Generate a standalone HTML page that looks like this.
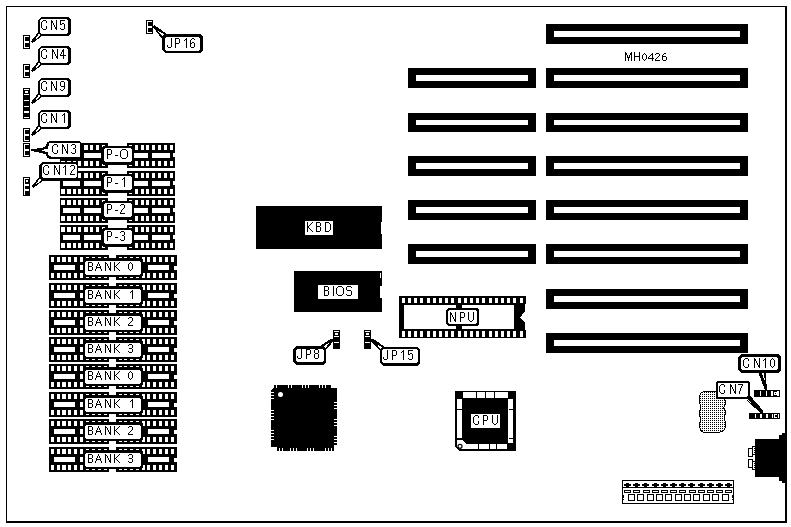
<!DOCTYPE html><html><head><meta charset="utf-8"><style>html,body{margin:0;padding:0;background:#fff;overflow:hidden}svg{display:block}</style></head><body><svg width="791" height="527" viewBox="0 0 791 527" shape-rendering="crispEdges"><defs><pattern id="dots" x="0" y="0" width="2" height="2" patternUnits="userSpaceOnUse"><rect width="2" height="2" fill="#fff"/><rect x="0" y="0" width="1" height="1" fill="#000"/></pattern><path id="g0" d="M0 0h4v1h-4zM0 1h1v1h-1zM4 1h1v1h-1zM0 2h1v1h-1zM4 2h1v1h-1zM0 3h1v1h-1zM4 3h1v1h-1zM0 4h1v1h-1zM4 4h1v1h-1zM0 5h4v1h-4zM0 6h1v1h-1zM0 7h1v1h-1zM0 8h1v1h-1zM0 9h1v1h-1z"/><path id="g1" d="M0 6h3v1h-3z"/><path id="g2" d="M2 0h4v1h-4zM1 1h1v1h-1zM6 1h1v1h-1zM0 2h1v1h-1zM7 2h1v1h-1zM0 3h1v1h-1zM7 3h1v1h-1zM0 4h1v1h-1zM7 4h1v1h-1zM0 5h1v1h-1zM7 5h1v1h-1zM0 6h1v1h-1zM7 6h1v1h-1zM0 7h1v1h-1zM7 7h1v1h-1zM1 8h1v1h-1zM6 8h1v1h-1zM2 9h4v1h-4z"/><path id="g3" d="M2 0h1v1h-1zM1 1h2v1h-2zM0 2h1v1h-1zM2 2h1v1h-1zM2 3h1v1h-1zM2 4h1v1h-1zM2 5h1v1h-1zM2 6h1v1h-1zM2 7h1v1h-1zM2 8h1v1h-1zM2 9h1v1h-1z"/><path id="g4" d="M1 0h3v1h-3zM0 1h1v1h-1zM4 1h1v1h-1zM4 2h1v1h-1zM4 3h1v1h-1zM3 4h1v1h-1zM2 5h1v1h-1zM1 6h1v1h-1zM1 7h1v1h-1zM0 8h1v1h-1zM0 9h5v1h-5z"/><path id="g5" d="M1 0h3v1h-3zM0 1h1v1h-1zM4 1h1v1h-1zM4 2h1v1h-1zM4 3h1v1h-1zM2 4h2v1h-2zM4 5h1v1h-1zM4 6h1v1h-1zM4 7h1v1h-1zM0 8h1v1h-1zM4 8h1v1h-1zM1 9h3v1h-3z"/><path id="g6" d="M0 0h4v1h-4zM0 1h1v1h-1zM4 1h1v1h-1zM0 2h1v1h-1zM4 2h1v1h-1zM0 3h1v1h-1zM4 3h1v1h-1zM0 4h4v1h-4zM0 5h1v1h-1zM4 5h1v1h-1zM0 6h1v1h-1zM4 6h1v1h-1zM0 7h1v1h-1zM4 7h1v1h-1zM0 8h4v1h-4z"/><path id="g7" d="M3 0h1v1h-1zM3 1h1v1h-1zM2 2h1v1h-1zM4 2h1v1h-1zM2 3h1v1h-1zM4 3h1v1h-1zM1 4h1v1h-1zM5 4h1v1h-1zM1 5h5v1h-5zM1 6h1v1h-1zM5 6h1v1h-1zM0 7h1v1h-1zM6 7h1v1h-1zM0 8h1v1h-1zM6 8h1v1h-1z"/><path id="g8" d="M0 0h1v1h-1zM5 0h1v1h-1zM0 1h2v1h-2zM5 1h1v1h-1zM0 2h1v1h-1zM2 2h1v1h-1zM5 2h1v1h-1zM0 3h1v1h-1zM2 3h1v1h-1zM5 3h1v1h-1zM0 4h1v1h-1zM3 4h1v1h-1zM5 4h1v1h-1zM0 5h1v1h-1zM3 5h1v1h-1zM5 5h1v1h-1zM0 6h1v1h-1zM4 6h2v1h-2zM0 7h1v1h-1zM4 7h2v1h-2zM0 8h1v1h-1zM5 8h1v1h-1z"/><path id="g9" d="M0 0h1v1h-1zM5 0h1v1h-1zM0 1h1v1h-1zM4 1h1v1h-1zM0 2h1v1h-1zM3 2h1v1h-1zM0 3h1v1h-1zM2 3h1v1h-1zM0 4h2v1h-2zM0 5h1v1h-1zM2 5h1v1h-1zM0 6h1v1h-1zM3 6h1v1h-1zM0 7h1v1h-1zM4 7h1v1h-1zM0 8h1v1h-1zM5 8h1v1h-1z"/><path id="g10" d="M2 0h1v1h-1zM1 1h1v1h-1zM3 1h1v1h-1zM0 2h1v1h-1zM4 2h1v1h-1zM0 3h1v1h-1zM4 3h1v1h-1zM0 4h1v1h-1zM4 4h1v1h-1zM0 5h1v1h-1zM4 5h1v1h-1zM0 6h1v1h-1zM4 6h1v1h-1zM1 7h1v1h-1zM3 7h1v1h-1zM2 8h1v1h-1z"/><path id="g11" d="M2 0h1v1h-1zM1 1h2v1h-2zM0 2h1v1h-1zM2 2h1v1h-1zM2 3h1v1h-1zM2 4h1v1h-1zM2 5h1v1h-1zM2 6h1v1h-1zM2 7h1v1h-1zM2 8h1v1h-1z"/><path id="g12" d="M1 0h3v1h-3zM0 1h1v1h-1zM4 1h1v1h-1zM4 2h1v1h-1zM4 3h1v1h-1zM3 4h1v1h-1zM2 5h1v1h-1zM1 6h1v1h-1zM0 7h1v1h-1zM0 8h5v1h-5z"/><path id="g13" d="M1 0h3v1h-3zM0 1h1v1h-1zM4 1h1v1h-1zM4 2h1v1h-1zM4 3h1v1h-1zM1 4h3v1h-3zM4 5h1v1h-1zM4 6h1v1h-1zM0 7h1v1h-1zM4 7h1v1h-1zM1 8h3v1h-3z"/><path id="g14" d="M2 0h3v1h-3zM1 1h1v1h-1zM5 1h1v1h-1zM0 2h1v1h-1zM5 2h1v1h-1zM0 3h1v1h-1zM0 4h1v1h-1zM0 5h1v1h-1zM0 6h1v1h-1zM5 6h1v1h-1zM0 7h1v1h-1zM5 7h1v1h-1zM1 8h1v1h-1zM5 8h1v1h-1zM2 9h3v1h-3z"/><path id="g15" d="M0 0h1v1h-1zM5 0h1v1h-1zM0 1h2v1h-2zM5 1h1v1h-1zM0 2h2v1h-2zM5 2h1v1h-1zM0 3h1v1h-1zM2 3h1v1h-1zM5 3h1v1h-1zM0 4h1v1h-1zM2 4h1v1h-1zM5 4h1v1h-1zM0 5h1v1h-1zM3 5h1v1h-1zM5 5h1v1h-1zM0 6h1v1h-1zM3 6h1v1h-1zM5 6h1v1h-1zM0 7h1v1h-1zM4 7h2v1h-2zM0 8h1v1h-1zM4 8h2v1h-2zM0 9h1v1h-1zM5 9h1v1h-1z"/><path id="g16" d="M0 0h5v1h-5zM0 1h1v1h-1zM0 2h1v1h-1zM0 3h1v1h-1zM2 3h2v1h-2zM0 4h2v1h-2zM4 4h1v1h-1zM4 5h1v1h-1zM4 6h1v1h-1zM4 7h1v1h-1zM0 8h1v1h-1zM4 8h1v1h-1zM1 9h3v1h-3z"/><path id="g17" d="M3 0h1v1h-1zM2 1h2v1h-2zM2 2h2v1h-2zM1 3h1v1h-1zM3 3h1v1h-1zM1 4h1v1h-1zM3 4h1v1h-1zM0 5h1v1h-1zM3 5h1v1h-1zM0 6h6v1h-6zM3 7h1v1h-1zM3 8h1v1h-1zM3 9h1v1h-1z"/><path id="g18" d="M1 0h3v1h-3zM0 1h1v1h-1zM4 1h1v1h-1zM0 2h1v1h-1zM4 2h1v1h-1zM0 3h1v1h-1zM4 3h1v1h-1zM0 4h1v1h-1zM4 4h1v1h-1zM1 5h4v1h-4zM4 6h1v1h-1zM4 7h1v1h-1zM0 8h1v1h-1zM3 8h1v1h-1zM1 9h2v1h-2z"/><path id="g19" d="M4 0h1v1h-1zM4 1h1v1h-1zM4 2h1v1h-1zM4 3h1v1h-1zM4 4h1v1h-1zM4 5h1v1h-1zM4 6h1v1h-1zM0 7h1v1h-1zM4 7h1v1h-1zM0 8h1v1h-1zM4 8h1v1h-1zM1 9h3v1h-3z"/><path id="g20" d="M2 0h2v1h-2zM1 1h1v1h-1zM4 1h1v1h-1zM0 2h1v1h-1zM0 3h1v1h-1zM0 4h1v1h-1zM2 4h2v1h-2zM0 5h2v1h-2zM4 5h1v1h-1zM0 6h1v1h-1zM4 6h1v1h-1zM0 7h1v1h-1zM4 7h1v1h-1zM0 8h1v1h-1zM4 8h1v1h-1zM1 9h3v1h-3z"/><path id="g21" d="M0 0h1v1h-1zM5 0h1v1h-1zM0 1h1v1h-1zM4 1h1v1h-1zM0 2h1v1h-1zM3 2h1v1h-1zM0 3h1v1h-1zM2 3h1v1h-1zM0 4h2v1h-2zM0 5h2v1h-2zM0 6h1v1h-1zM2 6h1v1h-1zM0 7h1v1h-1zM3 7h1v1h-1zM0 8h1v1h-1zM4 8h1v1h-1zM0 9h1v1h-1zM5 9h1v1h-1z"/><path id="g22" d="M0 0h4v1h-4zM0 1h1v1h-1zM4 1h1v1h-1zM0 2h1v1h-1zM4 2h1v1h-1zM0 3h1v1h-1zM4 3h1v1h-1zM0 4h4v1h-4zM0 5h1v1h-1zM4 5h1v1h-1zM0 6h1v1h-1zM4 6h1v1h-1zM0 7h1v1h-1zM4 7h1v1h-1zM0 8h1v1h-1zM4 8h1v1h-1zM0 9h4v1h-4z"/><path id="g23" d="M0 0h4v1h-4zM0 1h1v1h-1zM4 1h1v1h-1zM0 2h1v1h-1zM5 2h1v1h-1zM0 3h1v1h-1zM5 3h1v1h-1zM0 4h1v1h-1zM5 4h1v1h-1zM0 5h1v1h-1zM5 5h1v1h-1zM0 6h1v1h-1zM5 6h1v1h-1zM0 7h1v1h-1zM5 7h1v1h-1zM0 8h1v1h-1zM4 8h1v1h-1zM0 9h4v1h-4z"/><path id="g24" d="M0 0h1v1h-1zM0 1h1v1h-1zM0 2h1v1h-1zM0 3h1v1h-1zM0 4h1v1h-1zM0 5h1v1h-1zM0 6h1v1h-1zM0 7h1v1h-1zM0 8h1v1h-1zM0 9h1v1h-1z"/><path id="g25" d="M1 0h4v1h-4zM0 1h1v1h-1zM5 1h1v1h-1zM0 2h1v1h-1zM0 3h1v1h-1zM1 4h4v1h-4zM5 5h1v1h-1zM5 6h1v1h-1zM5 7h1v1h-1zM0 8h1v1h-1zM5 8h1v1h-1zM1 9h4v1h-4z"/><path id="g26" d="M0 0h1v1h-1zM5 0h1v1h-1zM0 1h1v1h-1zM5 1h1v1h-1zM0 2h1v1h-1zM5 2h1v1h-1zM0 3h1v1h-1zM5 3h1v1h-1zM0 4h1v1h-1zM5 4h1v1h-1zM0 5h1v1h-1zM5 5h1v1h-1zM0 6h1v1h-1zM5 6h1v1h-1zM0 7h1v1h-1zM5 7h1v1h-1zM1 8h1v1h-1zM4 8h1v1h-1zM2 9h2v1h-2z"/><path id="g27" d="M1 0h3v1h-3zM0 1h1v1h-1zM4 1h1v1h-1zM0 2h1v1h-1zM4 2h1v1h-1zM0 3h1v1h-1zM4 3h1v1h-1zM1 4h3v1h-3zM0 5h1v1h-1zM4 5h1v1h-1zM0 6h1v1h-1zM4 6h1v1h-1zM0 7h1v1h-1zM4 7h1v1h-1zM0 8h1v1h-1zM4 8h1v1h-1zM1 9h3v1h-3z"/><path id="g28" d="M2 0h1v1h-1zM1 1h1v1h-1zM3 1h1v1h-1zM0 2h1v1h-1zM4 2h1v1h-1zM0 3h1v1h-1zM4 3h1v1h-1zM0 4h1v1h-1zM4 4h1v1h-1zM0 5h1v1h-1zM4 5h1v1h-1zM0 6h1v1h-1zM4 6h1v1h-1zM0 7h1v1h-1zM4 7h1v1h-1zM1 8h1v1h-1zM3 8h1v1h-1zM2 9h1v1h-1z"/><path id="g29" d="M0 0h5v1h-5zM4 1h1v1h-1zM3 2h1v1h-1zM3 3h1v1h-1zM2 4h1v1h-1zM2 5h1v1h-1zM2 6h1v1h-1zM1 7h1v1h-1zM1 8h1v1h-1zM1 9h1v1h-1z"/><path id="g30" d="M0 0h1v1h-1zM6 0h1v1h-1zM0 1h2v1h-2zM5 1h2v1h-2zM0 2h2v1h-2zM5 2h2v1h-2zM0 3h1v1h-1zM2 3h1v1h-1zM4 3h1v1h-1zM6 3h1v1h-1zM0 4h1v1h-1zM2 4h1v1h-1zM4 4h1v1h-1zM6 4h1v1h-1zM0 5h1v1h-1zM2 5h3v1h-3zM6 5h1v1h-1zM0 6h1v1h-1zM3 6h1v1h-1zM6 6h1v1h-1zM0 7h1v1h-1zM3 7h1v1h-1zM6 7h1v1h-1zM0 8h1v1h-1zM3 8h1v1h-1zM6 8h1v1h-1z"/><path id="g31" d="M0 0h1v1h-1zM5 0h1v1h-1zM0 1h1v1h-1zM5 1h1v1h-1zM0 2h1v1h-1zM5 2h1v1h-1zM0 3h1v1h-1zM5 3h1v1h-1zM0 4h6v1h-6zM0 5h1v1h-1zM5 5h1v1h-1zM0 6h1v1h-1zM5 6h1v1h-1zM0 7h1v1h-1zM5 7h1v1h-1zM0 8h1v1h-1zM5 8h1v1h-1z"/><path id="g32" d="M2 1h1v1h-1zM1 2h1v1h-1zM3 2h1v1h-1zM0 3h1v1h-1zM4 3h1v1h-1zM0 4h1v1h-1zM4 4h1v1h-1zM0 5h1v1h-1zM4 5h1v1h-1zM0 6h1v1h-1zM4 6h1v1h-1zM1 7h1v1h-1zM3 7h1v1h-1zM2 8h1v1h-1z"/><path id="g33" d="M4 1h1v1h-1zM3 2h2v1h-2zM2 3h1v1h-1zM4 3h1v1h-1zM1 4h1v1h-1zM4 4h1v1h-1zM0 5h1v1h-1zM4 5h1v1h-1zM0 6h6v1h-6zM4 7h1v1h-1zM4 8h1v1h-1z"/><path id="g34" d="M1 1h3v1h-3zM0 2h1v1h-1zM4 2h1v1h-1zM4 3h1v1h-1zM3 4h1v1h-1zM2 5h1v1h-1zM1 6h1v1h-1zM0 7h1v1h-1zM0 8h5v1h-5z"/><path id="g35" d="M2 1h2v1h-2zM1 2h1v1h-1zM0 3h1v1h-1zM0 4h4v1h-4zM0 5h1v1h-1zM4 5h1v1h-1zM0 6h1v1h-1zM4 6h1v1h-1zM0 7h1v1h-1zM4 7h1v1h-1zM1 8h3v1h-3z"/></defs>
<rect x="6" y="6" width="781" height="517" fill="#000"/>
<rect x="7" y="7" width="778" height="514" fill="#fff"/>
<rect x="546" y="24" width="202" height="20" fill="#000"/>
<rect x="554" y="31" width="186" height="6" fill="#fff"/>
<rect x="546" y="68" width="202" height="20" fill="#000"/>
<rect x="554" y="75" width="186" height="6" fill="#fff"/>
<rect x="546" y="113" width="202" height="19" fill="#000"/>
<rect x="554" y="120" width="186" height="5" fill="#fff"/>
<rect x="546" y="156" width="202" height="20" fill="#000"/>
<rect x="554" y="163" width="186" height="6" fill="#fff"/>
<rect x="546" y="200" width="202" height="20" fill="#000"/>
<rect x="554" y="207" width="186" height="6" fill="#fff"/>
<rect x="546" y="244" width="202" height="20" fill="#000"/>
<rect x="554" y="251" width="186" height="6" fill="#fff"/>
<rect x="546" y="289" width="202" height="20" fill="#000"/>
<rect x="554" y="296" width="186" height="6" fill="#fff"/>
<rect x="546" y="333" width="202" height="20" fill="#000"/>
<rect x="554" y="340" width="186" height="6" fill="#fff"/>
<rect x="408" y="68" width="128" height="20" fill="#000"/>
<rect x="416" y="75" width="112" height="6" fill="#fff"/>
<rect x="408" y="113" width="128" height="19" fill="#000"/>
<rect x="416" y="120" width="112" height="5" fill="#fff"/>
<rect x="408" y="156" width="128" height="20" fill="#000"/>
<rect x="416" y="163" width="112" height="6" fill="#fff"/>
<rect x="408" y="200" width="128" height="20" fill="#000"/>
<rect x="416" y="207" width="112" height="6" fill="#fff"/>
<rect x="408" y="244" width="128" height="20" fill="#000"/>
<rect x="416" y="251" width="112" height="6" fill="#fff"/>
<rect x="60" y="143" width="48" height="25" fill="#000"/>
<rect x="61" y="145" width="4" height="5" fill="#fff"/>
<rect x="61" y="161" width="4" height="5" fill="#fff"/>
<rect x="67" y="145" width="4" height="5" fill="#fff"/>
<rect x="67" y="161" width="4" height="5" fill="#fff"/>
<rect x="73" y="145" width="3" height="5" fill="#fff"/>
<rect x="73" y="161" width="3" height="5" fill="#fff"/>
<rect x="78" y="145" width="3" height="5" fill="#fff"/>
<rect x="78" y="161" width="3" height="5" fill="#fff"/>
<rect x="84" y="145" width="4" height="5" fill="#fff"/>
<rect x="84" y="161" width="4" height="5" fill="#fff"/>
<rect x="90" y="145" width="3" height="5" fill="#fff"/>
<rect x="90" y="161" width="3" height="5" fill="#fff"/>
<rect x="96" y="145" width="3" height="5" fill="#fff"/>
<rect x="96" y="161" width="3" height="5" fill="#fff"/>
<rect x="102" y="145" width="3" height="5" fill="#fff"/>
<rect x="102" y="161" width="3" height="5" fill="#fff"/>
<rect x="63" y="153" width="17" height="5" fill="#fff"/>
<rect x="84" y="153" width="17" height="5" fill="#fff"/>
<rect x="127" y="143" width="48" height="25" fill="#000"/>
<rect x="129" y="145" width="3" height="5" fill="#fff"/>
<rect x="129" y="161" width="3" height="5" fill="#fff"/>
<rect x="135" y="145" width="3" height="5" fill="#fff"/>
<rect x="135" y="161" width="3" height="5" fill="#fff"/>
<rect x="141" y="145" width="3" height="5" fill="#fff"/>
<rect x="141" y="161" width="3" height="5" fill="#fff"/>
<rect x="146" y="145" width="3" height="5" fill="#fff"/>
<rect x="146" y="161" width="3" height="5" fill="#fff"/>
<rect x="152" y="145" width="3" height="5" fill="#fff"/>
<rect x="152" y="161" width="3" height="5" fill="#fff"/>
<rect x="158" y="145" width="3" height="5" fill="#fff"/>
<rect x="158" y="161" width="3" height="5" fill="#fff"/>
<rect x="164" y="145" width="3" height="5" fill="#fff"/>
<rect x="164" y="161" width="3" height="5" fill="#fff"/>
<rect x="170" y="145" width="3" height="5" fill="#fff"/>
<rect x="170" y="161" width="3" height="5" fill="#fff"/>
<rect x="134" y="153" width="14" height="5" fill="#fff"/>
<rect x="152" y="153" width="18" height="5" fill="#fff"/>
<rect x="173" y="153" width="2" height="4" fill="#fff"/>
<rect x="60" y="171" width="48" height="25" fill="#000"/>
<rect x="61" y="173" width="4" height="5" fill="#fff"/>
<rect x="61" y="189" width="4" height="5" fill="#fff"/>
<rect x="67" y="173" width="4" height="5" fill="#fff"/>
<rect x="67" y="189" width="4" height="5" fill="#fff"/>
<rect x="73" y="173" width="3" height="5" fill="#fff"/>
<rect x="73" y="189" width="3" height="5" fill="#fff"/>
<rect x="78" y="173" width="3" height="5" fill="#fff"/>
<rect x="78" y="189" width="3" height="5" fill="#fff"/>
<rect x="84" y="173" width="4" height="5" fill="#fff"/>
<rect x="84" y="189" width="4" height="5" fill="#fff"/>
<rect x="90" y="173" width="3" height="5" fill="#fff"/>
<rect x="90" y="189" width="3" height="5" fill="#fff"/>
<rect x="96" y="173" width="3" height="5" fill="#fff"/>
<rect x="96" y="189" width="3" height="5" fill="#fff"/>
<rect x="102" y="173" width="3" height="5" fill="#fff"/>
<rect x="102" y="189" width="3" height="5" fill="#fff"/>
<rect x="63" y="181" width="17" height="5" fill="#fff"/>
<rect x="84" y="181" width="17" height="5" fill="#fff"/>
<rect x="127" y="171" width="48" height="25" fill="#000"/>
<rect x="129" y="173" width="3" height="5" fill="#fff"/>
<rect x="129" y="189" width="3" height="5" fill="#fff"/>
<rect x="135" y="173" width="3" height="5" fill="#fff"/>
<rect x="135" y="189" width="3" height="5" fill="#fff"/>
<rect x="141" y="173" width="3" height="5" fill="#fff"/>
<rect x="141" y="189" width="3" height="5" fill="#fff"/>
<rect x="146" y="173" width="3" height="5" fill="#fff"/>
<rect x="146" y="189" width="3" height="5" fill="#fff"/>
<rect x="152" y="173" width="3" height="5" fill="#fff"/>
<rect x="152" y="189" width="3" height="5" fill="#fff"/>
<rect x="158" y="173" width="3" height="5" fill="#fff"/>
<rect x="158" y="189" width="3" height="5" fill="#fff"/>
<rect x="164" y="173" width="3" height="5" fill="#fff"/>
<rect x="164" y="189" width="3" height="5" fill="#fff"/>
<rect x="170" y="173" width="3" height="5" fill="#fff"/>
<rect x="170" y="189" width="3" height="5" fill="#fff"/>
<rect x="134" y="181" width="14" height="5" fill="#fff"/>
<rect x="152" y="181" width="18" height="5" fill="#fff"/>
<rect x="173" y="181" width="2" height="4" fill="#fff"/>
<rect x="60" y="198" width="48" height="25" fill="#000"/>
<rect x="61" y="200" width="4" height="5" fill="#fff"/>
<rect x="61" y="216" width="4" height="5" fill="#fff"/>
<rect x="67" y="200" width="4" height="5" fill="#fff"/>
<rect x="67" y="216" width="4" height="5" fill="#fff"/>
<rect x="73" y="200" width="3" height="5" fill="#fff"/>
<rect x="73" y="216" width="3" height="5" fill="#fff"/>
<rect x="78" y="200" width="3" height="5" fill="#fff"/>
<rect x="78" y="216" width="3" height="5" fill="#fff"/>
<rect x="84" y="200" width="4" height="5" fill="#fff"/>
<rect x="84" y="216" width="4" height="5" fill="#fff"/>
<rect x="90" y="200" width="3" height="5" fill="#fff"/>
<rect x="90" y="216" width="3" height="5" fill="#fff"/>
<rect x="96" y="200" width="3" height="5" fill="#fff"/>
<rect x="96" y="216" width="3" height="5" fill="#fff"/>
<rect x="102" y="200" width="3" height="5" fill="#fff"/>
<rect x="102" y="216" width="3" height="5" fill="#fff"/>
<rect x="63" y="208" width="17" height="5" fill="#fff"/>
<rect x="84" y="208" width="17" height="5" fill="#fff"/>
<rect x="127" y="198" width="48" height="25" fill="#000"/>
<rect x="129" y="200" width="3" height="5" fill="#fff"/>
<rect x="129" y="216" width="3" height="5" fill="#fff"/>
<rect x="135" y="200" width="3" height="5" fill="#fff"/>
<rect x="135" y="216" width="3" height="5" fill="#fff"/>
<rect x="141" y="200" width="3" height="5" fill="#fff"/>
<rect x="141" y="216" width="3" height="5" fill="#fff"/>
<rect x="146" y="200" width="3" height="5" fill="#fff"/>
<rect x="146" y="216" width="3" height="5" fill="#fff"/>
<rect x="152" y="200" width="3" height="5" fill="#fff"/>
<rect x="152" y="216" width="3" height="5" fill="#fff"/>
<rect x="158" y="200" width="3" height="5" fill="#fff"/>
<rect x="158" y="216" width="3" height="5" fill="#fff"/>
<rect x="164" y="200" width="3" height="5" fill="#fff"/>
<rect x="164" y="216" width="3" height="5" fill="#fff"/>
<rect x="170" y="200" width="3" height="5" fill="#fff"/>
<rect x="170" y="216" width="3" height="5" fill="#fff"/>
<rect x="134" y="208" width="14" height="5" fill="#fff"/>
<rect x="152" y="208" width="18" height="5" fill="#fff"/>
<rect x="173" y="208" width="2" height="4" fill="#fff"/>
<rect x="60" y="225" width="48" height="25" fill="#000"/>
<rect x="61" y="227" width="4" height="5" fill="#fff"/>
<rect x="61" y="243" width="4" height="5" fill="#fff"/>
<rect x="67" y="227" width="4" height="5" fill="#fff"/>
<rect x="67" y="243" width="4" height="5" fill="#fff"/>
<rect x="73" y="227" width="3" height="5" fill="#fff"/>
<rect x="73" y="243" width="3" height="5" fill="#fff"/>
<rect x="78" y="227" width="3" height="5" fill="#fff"/>
<rect x="78" y="243" width="3" height="5" fill="#fff"/>
<rect x="84" y="227" width="4" height="5" fill="#fff"/>
<rect x="84" y="243" width="4" height="5" fill="#fff"/>
<rect x="90" y="227" width="3" height="5" fill="#fff"/>
<rect x="90" y="243" width="3" height="5" fill="#fff"/>
<rect x="96" y="227" width="3" height="5" fill="#fff"/>
<rect x="96" y="243" width="3" height="5" fill="#fff"/>
<rect x="102" y="227" width="3" height="5" fill="#fff"/>
<rect x="102" y="243" width="3" height="5" fill="#fff"/>
<rect x="63" y="235" width="17" height="5" fill="#fff"/>
<rect x="84" y="235" width="17" height="5" fill="#fff"/>
<rect x="127" y="225" width="48" height="25" fill="#000"/>
<rect x="129" y="227" width="3" height="5" fill="#fff"/>
<rect x="129" y="243" width="3" height="5" fill="#fff"/>
<rect x="135" y="227" width="3" height="5" fill="#fff"/>
<rect x="135" y="243" width="3" height="5" fill="#fff"/>
<rect x="141" y="227" width="3" height="5" fill="#fff"/>
<rect x="141" y="243" width="3" height="5" fill="#fff"/>
<rect x="146" y="227" width="3" height="5" fill="#fff"/>
<rect x="146" y="243" width="3" height="5" fill="#fff"/>
<rect x="152" y="227" width="3" height="5" fill="#fff"/>
<rect x="152" y="243" width="3" height="5" fill="#fff"/>
<rect x="158" y="227" width="3" height="5" fill="#fff"/>
<rect x="158" y="243" width="3" height="5" fill="#fff"/>
<rect x="164" y="227" width="3" height="5" fill="#fff"/>
<rect x="164" y="243" width="3" height="5" fill="#fff"/>
<rect x="170" y="227" width="3" height="5" fill="#fff"/>
<rect x="170" y="243" width="3" height="5" fill="#fff"/>
<rect x="134" y="235" width="14" height="5" fill="#fff"/>
<rect x="152" y="235" width="18" height="5" fill="#fff"/>
<rect x="173" y="235" width="2" height="4" fill="#fff"/>
<rect x="49" y="255" width="60" height="25" fill="#000"/>
<rect x="51" y="257" width="3" height="5" fill="#fff"/>
<rect x="51" y="273" width="3" height="5" fill="#fff"/>
<rect x="57" y="257" width="3" height="5" fill="#fff"/>
<rect x="57" y="273" width="3" height="5" fill="#fff"/>
<rect x="62" y="257" width="4" height="5" fill="#fff"/>
<rect x="62" y="273" width="4" height="5" fill="#fff"/>
<rect x="68" y="257" width="3" height="5" fill="#fff"/>
<rect x="68" y="273" width="3" height="5" fill="#fff"/>
<rect x="74" y="257" width="3" height="5" fill="#fff"/>
<rect x="74" y="273" width="3" height="5" fill="#fff"/>
<rect x="80" y="257" width="3" height="5" fill="#fff"/>
<rect x="80" y="273" width="3" height="5" fill="#fff"/>
<rect x="86" y="257" width="3" height="5" fill="#fff"/>
<rect x="86" y="273" width="3" height="5" fill="#fff"/>
<rect x="92" y="257" width="3" height="5" fill="#fff"/>
<rect x="92" y="273" width="3" height="5" fill="#fff"/>
<rect x="98" y="257" width="3" height="5" fill="#fff"/>
<rect x="98" y="273" width="3" height="5" fill="#fff"/>
<rect x="104" y="257" width="3" height="5" fill="#fff"/>
<rect x="104" y="273" width="3" height="5" fill="#fff"/>
<rect x="54" y="265" width="21" height="5" fill="#fff"/>
<rect x="80" y="265" width="20" height="5" fill="#fff"/>
<rect x="116" y="255" width="61" height="25" fill="#000"/>
<rect x="119" y="257" width="3" height="5" fill="#fff"/>
<rect x="119" y="273" width="3" height="5" fill="#fff"/>
<rect x="124" y="257" width="3" height="5" fill="#fff"/>
<rect x="124" y="273" width="3" height="5" fill="#fff"/>
<rect x="130" y="257" width="3" height="5" fill="#fff"/>
<rect x="130" y="273" width="3" height="5" fill="#fff"/>
<rect x="136" y="257" width="3" height="5" fill="#fff"/>
<rect x="136" y="273" width="3" height="5" fill="#fff"/>
<rect x="142" y="257" width="3" height="5" fill="#fff"/>
<rect x="142" y="273" width="3" height="5" fill="#fff"/>
<rect x="147" y="257" width="3" height="5" fill="#fff"/>
<rect x="147" y="273" width="3" height="5" fill="#fff"/>
<rect x="153" y="257" width="3" height="5" fill="#fff"/>
<rect x="153" y="273" width="3" height="5" fill="#fff"/>
<rect x="159" y="257" width="3" height="5" fill="#fff"/>
<rect x="159" y="273" width="3" height="5" fill="#fff"/>
<rect x="165" y="257" width="3" height="5" fill="#fff"/>
<rect x="165" y="273" width="3" height="5" fill="#fff"/>
<rect x="171" y="257" width="3" height="5" fill="#fff"/>
<rect x="171" y="273" width="3" height="5" fill="#fff"/>
<rect x="148" y="265" width="21" height="5" fill="#fff"/>
<rect x="174" y="266" width="3" height="4" fill="#fff"/>
<rect x="49" y="283" width="60" height="25" fill="#000"/>
<rect x="51" y="285" width="3" height="5" fill="#fff"/>
<rect x="51" y="301" width="3" height="5" fill="#fff"/>
<rect x="57" y="285" width="3" height="5" fill="#fff"/>
<rect x="57" y="301" width="3" height="5" fill="#fff"/>
<rect x="62" y="285" width="4" height="5" fill="#fff"/>
<rect x="62" y="301" width="4" height="5" fill="#fff"/>
<rect x="68" y="285" width="3" height="5" fill="#fff"/>
<rect x="68" y="301" width="3" height="5" fill="#fff"/>
<rect x="74" y="285" width="3" height="5" fill="#fff"/>
<rect x="74" y="301" width="3" height="5" fill="#fff"/>
<rect x="80" y="285" width="3" height="5" fill="#fff"/>
<rect x="80" y="301" width="3" height="5" fill="#fff"/>
<rect x="86" y="285" width="3" height="5" fill="#fff"/>
<rect x="86" y="301" width="3" height="5" fill="#fff"/>
<rect x="92" y="285" width="3" height="5" fill="#fff"/>
<rect x="92" y="301" width="3" height="5" fill="#fff"/>
<rect x="98" y="285" width="3" height="5" fill="#fff"/>
<rect x="98" y="301" width="3" height="5" fill="#fff"/>
<rect x="104" y="285" width="3" height="5" fill="#fff"/>
<rect x="104" y="301" width="3" height="5" fill="#fff"/>
<rect x="54" y="293" width="21" height="5" fill="#fff"/>
<rect x="80" y="293" width="20" height="5" fill="#fff"/>
<rect x="116" y="283" width="61" height="25" fill="#000"/>
<rect x="119" y="285" width="3" height="5" fill="#fff"/>
<rect x="119" y="301" width="3" height="5" fill="#fff"/>
<rect x="124" y="285" width="3" height="5" fill="#fff"/>
<rect x="124" y="301" width="3" height="5" fill="#fff"/>
<rect x="130" y="285" width="3" height="5" fill="#fff"/>
<rect x="130" y="301" width="3" height="5" fill="#fff"/>
<rect x="136" y="285" width="3" height="5" fill="#fff"/>
<rect x="136" y="301" width="3" height="5" fill="#fff"/>
<rect x="142" y="285" width="3" height="5" fill="#fff"/>
<rect x="142" y="301" width="3" height="5" fill="#fff"/>
<rect x="147" y="285" width="3" height="5" fill="#fff"/>
<rect x="147" y="301" width="3" height="5" fill="#fff"/>
<rect x="153" y="285" width="3" height="5" fill="#fff"/>
<rect x="153" y="301" width="3" height="5" fill="#fff"/>
<rect x="159" y="285" width="3" height="5" fill="#fff"/>
<rect x="159" y="301" width="3" height="5" fill="#fff"/>
<rect x="165" y="285" width="3" height="5" fill="#fff"/>
<rect x="165" y="301" width="3" height="5" fill="#fff"/>
<rect x="171" y="285" width="3" height="5" fill="#fff"/>
<rect x="171" y="301" width="3" height="5" fill="#fff"/>
<rect x="148" y="293" width="21" height="5" fill="#fff"/>
<rect x="174" y="294" width="3" height="4" fill="#fff"/>
<rect x="49" y="310" width="60" height="25" fill="#000"/>
<rect x="51" y="312" width="3" height="5" fill="#fff"/>
<rect x="51" y="328" width="3" height="5" fill="#fff"/>
<rect x="57" y="312" width="3" height="5" fill="#fff"/>
<rect x="57" y="328" width="3" height="5" fill="#fff"/>
<rect x="62" y="312" width="4" height="5" fill="#fff"/>
<rect x="62" y="328" width="4" height="5" fill="#fff"/>
<rect x="68" y="312" width="3" height="5" fill="#fff"/>
<rect x="68" y="328" width="3" height="5" fill="#fff"/>
<rect x="74" y="312" width="3" height="5" fill="#fff"/>
<rect x="74" y="328" width="3" height="5" fill="#fff"/>
<rect x="80" y="312" width="3" height="5" fill="#fff"/>
<rect x="80" y="328" width="3" height="5" fill="#fff"/>
<rect x="86" y="312" width="3" height="5" fill="#fff"/>
<rect x="86" y="328" width="3" height="5" fill="#fff"/>
<rect x="92" y="312" width="3" height="5" fill="#fff"/>
<rect x="92" y="328" width="3" height="5" fill="#fff"/>
<rect x="98" y="312" width="3" height="5" fill="#fff"/>
<rect x="98" y="328" width="3" height="5" fill="#fff"/>
<rect x="104" y="312" width="3" height="5" fill="#fff"/>
<rect x="104" y="328" width="3" height="5" fill="#fff"/>
<rect x="54" y="320" width="21" height="5" fill="#fff"/>
<rect x="80" y="320" width="20" height="5" fill="#fff"/>
<rect x="116" y="310" width="61" height="25" fill="#000"/>
<rect x="119" y="312" width="3" height="5" fill="#fff"/>
<rect x="119" y="328" width="3" height="5" fill="#fff"/>
<rect x="124" y="312" width="3" height="5" fill="#fff"/>
<rect x="124" y="328" width="3" height="5" fill="#fff"/>
<rect x="130" y="312" width="3" height="5" fill="#fff"/>
<rect x="130" y="328" width="3" height="5" fill="#fff"/>
<rect x="136" y="312" width="3" height="5" fill="#fff"/>
<rect x="136" y="328" width="3" height="5" fill="#fff"/>
<rect x="142" y="312" width="3" height="5" fill="#fff"/>
<rect x="142" y="328" width="3" height="5" fill="#fff"/>
<rect x="147" y="312" width="3" height="5" fill="#fff"/>
<rect x="147" y="328" width="3" height="5" fill="#fff"/>
<rect x="153" y="312" width="3" height="5" fill="#fff"/>
<rect x="153" y="328" width="3" height="5" fill="#fff"/>
<rect x="159" y="312" width="3" height="5" fill="#fff"/>
<rect x="159" y="328" width="3" height="5" fill="#fff"/>
<rect x="165" y="312" width="3" height="5" fill="#fff"/>
<rect x="165" y="328" width="3" height="5" fill="#fff"/>
<rect x="171" y="312" width="3" height="5" fill="#fff"/>
<rect x="171" y="328" width="3" height="5" fill="#fff"/>
<rect x="148" y="320" width="21" height="5" fill="#fff"/>
<rect x="174" y="321" width="3" height="4" fill="#fff"/>
<rect x="49" y="337" width="60" height="25" fill="#000"/>
<rect x="51" y="339" width="3" height="5" fill="#fff"/>
<rect x="51" y="355" width="3" height="5" fill="#fff"/>
<rect x="57" y="339" width="3" height="5" fill="#fff"/>
<rect x="57" y="355" width="3" height="5" fill="#fff"/>
<rect x="62" y="339" width="4" height="5" fill="#fff"/>
<rect x="62" y="355" width="4" height="5" fill="#fff"/>
<rect x="68" y="339" width="3" height="5" fill="#fff"/>
<rect x="68" y="355" width="3" height="5" fill="#fff"/>
<rect x="74" y="339" width="3" height="5" fill="#fff"/>
<rect x="74" y="355" width="3" height="5" fill="#fff"/>
<rect x="80" y="339" width="3" height="5" fill="#fff"/>
<rect x="80" y="355" width="3" height="5" fill="#fff"/>
<rect x="86" y="339" width="3" height="5" fill="#fff"/>
<rect x="86" y="355" width="3" height="5" fill="#fff"/>
<rect x="92" y="339" width="3" height="5" fill="#fff"/>
<rect x="92" y="355" width="3" height="5" fill="#fff"/>
<rect x="98" y="339" width="3" height="5" fill="#fff"/>
<rect x="98" y="355" width="3" height="5" fill="#fff"/>
<rect x="104" y="339" width="3" height="5" fill="#fff"/>
<rect x="104" y="355" width="3" height="5" fill="#fff"/>
<rect x="54" y="347" width="21" height="5" fill="#fff"/>
<rect x="80" y="347" width="20" height="5" fill="#fff"/>
<rect x="116" y="337" width="61" height="25" fill="#000"/>
<rect x="119" y="339" width="3" height="5" fill="#fff"/>
<rect x="119" y="355" width="3" height="5" fill="#fff"/>
<rect x="124" y="339" width="3" height="5" fill="#fff"/>
<rect x="124" y="355" width="3" height="5" fill="#fff"/>
<rect x="130" y="339" width="3" height="5" fill="#fff"/>
<rect x="130" y="355" width="3" height="5" fill="#fff"/>
<rect x="136" y="339" width="3" height="5" fill="#fff"/>
<rect x="136" y="355" width="3" height="5" fill="#fff"/>
<rect x="142" y="339" width="3" height="5" fill="#fff"/>
<rect x="142" y="355" width="3" height="5" fill="#fff"/>
<rect x="147" y="339" width="3" height="5" fill="#fff"/>
<rect x="147" y="355" width="3" height="5" fill="#fff"/>
<rect x="153" y="339" width="3" height="5" fill="#fff"/>
<rect x="153" y="355" width="3" height="5" fill="#fff"/>
<rect x="159" y="339" width="3" height="5" fill="#fff"/>
<rect x="159" y="355" width="3" height="5" fill="#fff"/>
<rect x="165" y="339" width="3" height="5" fill="#fff"/>
<rect x="165" y="355" width="3" height="5" fill="#fff"/>
<rect x="171" y="339" width="3" height="5" fill="#fff"/>
<rect x="171" y="355" width="3" height="5" fill="#fff"/>
<rect x="148" y="347" width="21" height="5" fill="#fff"/>
<rect x="174" y="348" width="3" height="4" fill="#fff"/>
<rect x="49" y="364" width="60" height="25" fill="#000"/>
<rect x="51" y="366" width="3" height="5" fill="#fff"/>
<rect x="51" y="382" width="3" height="5" fill="#fff"/>
<rect x="57" y="366" width="3" height="5" fill="#fff"/>
<rect x="57" y="382" width="3" height="5" fill="#fff"/>
<rect x="62" y="366" width="4" height="5" fill="#fff"/>
<rect x="62" y="382" width="4" height="5" fill="#fff"/>
<rect x="68" y="366" width="3" height="5" fill="#fff"/>
<rect x="68" y="382" width="3" height="5" fill="#fff"/>
<rect x="74" y="366" width="3" height="5" fill="#fff"/>
<rect x="74" y="382" width="3" height="5" fill="#fff"/>
<rect x="80" y="366" width="3" height="5" fill="#fff"/>
<rect x="80" y="382" width="3" height="5" fill="#fff"/>
<rect x="86" y="366" width="3" height="5" fill="#fff"/>
<rect x="86" y="382" width="3" height="5" fill="#fff"/>
<rect x="92" y="366" width="3" height="5" fill="#fff"/>
<rect x="92" y="382" width="3" height="5" fill="#fff"/>
<rect x="98" y="366" width="3" height="5" fill="#fff"/>
<rect x="98" y="382" width="3" height="5" fill="#fff"/>
<rect x="104" y="366" width="3" height="5" fill="#fff"/>
<rect x="104" y="382" width="3" height="5" fill="#fff"/>
<rect x="54" y="374" width="21" height="5" fill="#fff"/>
<rect x="80" y="374" width="20" height="5" fill="#fff"/>
<rect x="116" y="364" width="61" height="25" fill="#000"/>
<rect x="119" y="366" width="3" height="5" fill="#fff"/>
<rect x="119" y="382" width="3" height="5" fill="#fff"/>
<rect x="124" y="366" width="3" height="5" fill="#fff"/>
<rect x="124" y="382" width="3" height="5" fill="#fff"/>
<rect x="130" y="366" width="3" height="5" fill="#fff"/>
<rect x="130" y="382" width="3" height="5" fill="#fff"/>
<rect x="136" y="366" width="3" height="5" fill="#fff"/>
<rect x="136" y="382" width="3" height="5" fill="#fff"/>
<rect x="142" y="366" width="3" height="5" fill="#fff"/>
<rect x="142" y="382" width="3" height="5" fill="#fff"/>
<rect x="147" y="366" width="3" height="5" fill="#fff"/>
<rect x="147" y="382" width="3" height="5" fill="#fff"/>
<rect x="153" y="366" width="3" height="5" fill="#fff"/>
<rect x="153" y="382" width="3" height="5" fill="#fff"/>
<rect x="159" y="366" width="3" height="5" fill="#fff"/>
<rect x="159" y="382" width="3" height="5" fill="#fff"/>
<rect x="165" y="366" width="3" height="5" fill="#fff"/>
<rect x="165" y="382" width="3" height="5" fill="#fff"/>
<rect x="171" y="366" width="3" height="5" fill="#fff"/>
<rect x="171" y="382" width="3" height="5" fill="#fff"/>
<rect x="148" y="374" width="21" height="5" fill="#fff"/>
<rect x="174" y="375" width="3" height="4" fill="#fff"/>
<rect x="49" y="392" width="60" height="25" fill="#000"/>
<rect x="51" y="394" width="3" height="5" fill="#fff"/>
<rect x="51" y="410" width="3" height="5" fill="#fff"/>
<rect x="57" y="394" width="3" height="5" fill="#fff"/>
<rect x="57" y="410" width="3" height="5" fill="#fff"/>
<rect x="62" y="394" width="4" height="5" fill="#fff"/>
<rect x="62" y="410" width="4" height="5" fill="#fff"/>
<rect x="68" y="394" width="3" height="5" fill="#fff"/>
<rect x="68" y="410" width="3" height="5" fill="#fff"/>
<rect x="74" y="394" width="3" height="5" fill="#fff"/>
<rect x="74" y="410" width="3" height="5" fill="#fff"/>
<rect x="80" y="394" width="3" height="5" fill="#fff"/>
<rect x="80" y="410" width="3" height="5" fill="#fff"/>
<rect x="86" y="394" width="3" height="5" fill="#fff"/>
<rect x="86" y="410" width="3" height="5" fill="#fff"/>
<rect x="92" y="394" width="3" height="5" fill="#fff"/>
<rect x="92" y="410" width="3" height="5" fill="#fff"/>
<rect x="98" y="394" width="3" height="5" fill="#fff"/>
<rect x="98" y="410" width="3" height="5" fill="#fff"/>
<rect x="104" y="394" width="3" height="5" fill="#fff"/>
<rect x="104" y="410" width="3" height="5" fill="#fff"/>
<rect x="54" y="402" width="21" height="5" fill="#fff"/>
<rect x="80" y="402" width="20" height="5" fill="#fff"/>
<rect x="116" y="392" width="61" height="25" fill="#000"/>
<rect x="119" y="394" width="3" height="5" fill="#fff"/>
<rect x="119" y="410" width="3" height="5" fill="#fff"/>
<rect x="124" y="394" width="3" height="5" fill="#fff"/>
<rect x="124" y="410" width="3" height="5" fill="#fff"/>
<rect x="130" y="394" width="3" height="5" fill="#fff"/>
<rect x="130" y="410" width="3" height="5" fill="#fff"/>
<rect x="136" y="394" width="3" height="5" fill="#fff"/>
<rect x="136" y="410" width="3" height="5" fill="#fff"/>
<rect x="142" y="394" width="3" height="5" fill="#fff"/>
<rect x="142" y="410" width="3" height="5" fill="#fff"/>
<rect x="147" y="394" width="3" height="5" fill="#fff"/>
<rect x="147" y="410" width="3" height="5" fill="#fff"/>
<rect x="153" y="394" width="3" height="5" fill="#fff"/>
<rect x="153" y="410" width="3" height="5" fill="#fff"/>
<rect x="159" y="394" width="3" height="5" fill="#fff"/>
<rect x="159" y="410" width="3" height="5" fill="#fff"/>
<rect x="165" y="394" width="3" height="5" fill="#fff"/>
<rect x="165" y="410" width="3" height="5" fill="#fff"/>
<rect x="171" y="394" width="3" height="5" fill="#fff"/>
<rect x="171" y="410" width="3" height="5" fill="#fff"/>
<rect x="148" y="402" width="21" height="5" fill="#fff"/>
<rect x="174" y="403" width="3" height="4" fill="#fff"/>
<rect x="49" y="419" width="60" height="25" fill="#000"/>
<rect x="51" y="421" width="3" height="5" fill="#fff"/>
<rect x="51" y="437" width="3" height="5" fill="#fff"/>
<rect x="57" y="421" width="3" height="5" fill="#fff"/>
<rect x="57" y="437" width="3" height="5" fill="#fff"/>
<rect x="62" y="421" width="4" height="5" fill="#fff"/>
<rect x="62" y="437" width="4" height="5" fill="#fff"/>
<rect x="68" y="421" width="3" height="5" fill="#fff"/>
<rect x="68" y="437" width="3" height="5" fill="#fff"/>
<rect x="74" y="421" width="3" height="5" fill="#fff"/>
<rect x="74" y="437" width="3" height="5" fill="#fff"/>
<rect x="80" y="421" width="3" height="5" fill="#fff"/>
<rect x="80" y="437" width="3" height="5" fill="#fff"/>
<rect x="86" y="421" width="3" height="5" fill="#fff"/>
<rect x="86" y="437" width="3" height="5" fill="#fff"/>
<rect x="92" y="421" width="3" height="5" fill="#fff"/>
<rect x="92" y="437" width="3" height="5" fill="#fff"/>
<rect x="98" y="421" width="3" height="5" fill="#fff"/>
<rect x="98" y="437" width="3" height="5" fill="#fff"/>
<rect x="104" y="421" width="3" height="5" fill="#fff"/>
<rect x="104" y="437" width="3" height="5" fill="#fff"/>
<rect x="54" y="429" width="21" height="5" fill="#fff"/>
<rect x="80" y="429" width="20" height="5" fill="#fff"/>
<rect x="116" y="419" width="61" height="25" fill="#000"/>
<rect x="119" y="421" width="3" height="5" fill="#fff"/>
<rect x="119" y="437" width="3" height="5" fill="#fff"/>
<rect x="124" y="421" width="3" height="5" fill="#fff"/>
<rect x="124" y="437" width="3" height="5" fill="#fff"/>
<rect x="130" y="421" width="3" height="5" fill="#fff"/>
<rect x="130" y="437" width="3" height="5" fill="#fff"/>
<rect x="136" y="421" width="3" height="5" fill="#fff"/>
<rect x="136" y="437" width="3" height="5" fill="#fff"/>
<rect x="142" y="421" width="3" height="5" fill="#fff"/>
<rect x="142" y="437" width="3" height="5" fill="#fff"/>
<rect x="147" y="421" width="3" height="5" fill="#fff"/>
<rect x="147" y="437" width="3" height="5" fill="#fff"/>
<rect x="153" y="421" width="3" height="5" fill="#fff"/>
<rect x="153" y="437" width="3" height="5" fill="#fff"/>
<rect x="159" y="421" width="3" height="5" fill="#fff"/>
<rect x="159" y="437" width="3" height="5" fill="#fff"/>
<rect x="165" y="421" width="3" height="5" fill="#fff"/>
<rect x="165" y="437" width="3" height="5" fill="#fff"/>
<rect x="171" y="421" width="3" height="5" fill="#fff"/>
<rect x="171" y="437" width="3" height="5" fill="#fff"/>
<rect x="148" y="429" width="21" height="5" fill="#fff"/>
<rect x="174" y="430" width="3" height="4" fill="#fff"/>
<rect x="49" y="447" width="60" height="25" fill="#000"/>
<rect x="51" y="449" width="3" height="5" fill="#fff"/>
<rect x="51" y="465" width="3" height="5" fill="#fff"/>
<rect x="57" y="449" width="3" height="5" fill="#fff"/>
<rect x="57" y="465" width="3" height="5" fill="#fff"/>
<rect x="62" y="449" width="4" height="5" fill="#fff"/>
<rect x="62" y="465" width="4" height="5" fill="#fff"/>
<rect x="68" y="449" width="3" height="5" fill="#fff"/>
<rect x="68" y="465" width="3" height="5" fill="#fff"/>
<rect x="74" y="449" width="3" height="5" fill="#fff"/>
<rect x="74" y="465" width="3" height="5" fill="#fff"/>
<rect x="80" y="449" width="3" height="5" fill="#fff"/>
<rect x="80" y="465" width="3" height="5" fill="#fff"/>
<rect x="86" y="449" width="3" height="5" fill="#fff"/>
<rect x="86" y="465" width="3" height="5" fill="#fff"/>
<rect x="92" y="449" width="3" height="5" fill="#fff"/>
<rect x="92" y="465" width="3" height="5" fill="#fff"/>
<rect x="98" y="449" width="3" height="5" fill="#fff"/>
<rect x="98" y="465" width="3" height="5" fill="#fff"/>
<rect x="104" y="449" width="3" height="5" fill="#fff"/>
<rect x="104" y="465" width="3" height="5" fill="#fff"/>
<rect x="54" y="457" width="21" height="5" fill="#fff"/>
<rect x="80" y="457" width="20" height="5" fill="#fff"/>
<rect x="116" y="447" width="61" height="25" fill="#000"/>
<rect x="119" y="449" width="3" height="5" fill="#fff"/>
<rect x="119" y="465" width="3" height="5" fill="#fff"/>
<rect x="124" y="449" width="3" height="5" fill="#fff"/>
<rect x="124" y="465" width="3" height="5" fill="#fff"/>
<rect x="130" y="449" width="3" height="5" fill="#fff"/>
<rect x="130" y="465" width="3" height="5" fill="#fff"/>
<rect x="136" y="449" width="3" height="5" fill="#fff"/>
<rect x="136" y="465" width="3" height="5" fill="#fff"/>
<rect x="142" y="449" width="3" height="5" fill="#fff"/>
<rect x="142" y="465" width="3" height="5" fill="#fff"/>
<rect x="147" y="449" width="3" height="5" fill="#fff"/>
<rect x="147" y="465" width="3" height="5" fill="#fff"/>
<rect x="153" y="449" width="3" height="5" fill="#fff"/>
<rect x="153" y="465" width="3" height="5" fill="#fff"/>
<rect x="159" y="449" width="3" height="5" fill="#fff"/>
<rect x="159" y="465" width="3" height="5" fill="#fff"/>
<rect x="165" y="449" width="3" height="5" fill="#fff"/>
<rect x="165" y="465" width="3" height="5" fill="#fff"/>
<rect x="171" y="449" width="3" height="5" fill="#fff"/>
<rect x="171" y="465" width="3" height="5" fill="#fff"/>
<rect x="148" y="457" width="21" height="5" fill="#fff"/>
<rect x="174" y="458" width="3" height="4" fill="#fff"/>
<polygon points="103.5,146 132.5,146 134,147.5 134,163.5 132.5,165 103.5,165 102,163.5 102,147.5" fill="#000"/>
<polygon points="105.0,148 130.5,148 132,149.5 132,160.5 130.5,162 105.0,162 103.5,160.5 103.5,149.5" fill="#fff"/>
<use href="#g0" x="107" y="149"/>
<use href="#g1" x="115" y="149"/>
<use href="#g2" x="120" y="149"/>
<polygon points="103.5,174 132.5,174 134,175.5 134,191.5 132.5,193 103.5,193 102,191.5 102,175.5" fill="#000"/>
<polygon points="105.0,176 130.5,176 132,177.5 132,188.5 130.5,190 105.0,190 103.5,188.5 103.5,177.5" fill="#fff"/>
<use href="#g0" x="107" y="177"/>
<use href="#g1" x="115" y="177"/>
<use href="#g3" x="122" y="177"/>
<polygon points="103.5,201 132.5,201 134,202.5 134,218.5 132.5,220 103.5,220 102,218.5 102,202.5" fill="#000"/>
<polygon points="105.0,203 130.5,203 132,204.5 132,215.5 130.5,217 105.0,217 103.5,215.5 103.5,204.5" fill="#fff"/>
<use href="#g0" x="107" y="204"/>
<use href="#g1" x="115" y="204"/>
<use href="#g4" x="120" y="204"/>
<polygon points="103.5,228 132.5,228 134,229.5 134,245.5 132.5,247 103.5,247 102,245.5 102,229.5" fill="#000"/>
<polygon points="105.0,230 130.5,230 132,231.5 132,242.5 130.5,244 105.0,244 103.5,242.5 103.5,231.5" fill="#fff"/>
<use href="#g0" x="107" y="231"/>
<use href="#g1" x="115" y="231"/>
<use href="#g5" x="120" y="231"/>
<polygon points="84,258 141.5,258 142.5,259 142.5,276 141.5,277 84,277 83,276 83,259" fill="#000"/>
<polygon points="86.5,261 139.5,261 141.0,262.5 141.0,273.5 139.5,275 86.5,275 85,273.5 85,262.5" fill="#fff"/>
<use href="#g6" x="88" y="262"/>
<use href="#g7" x="95" y="262"/>
<use href="#g8" x="105" y="262"/>
<use href="#g9" x="114" y="262"/>
<use href="#g10" x="128" y="262"/>
<polygon points="84,286 141.5,286 142.5,287 142.5,304 141.5,305 84,305 83,304 83,287" fill="#000"/>
<polygon points="86.5,289 139.5,289 141.0,290.5 141.0,301.5 139.5,303 86.5,303 85,301.5 85,290.5" fill="#fff"/>
<use href="#g6" x="88" y="290"/>
<use href="#g7" x="95" y="290"/>
<use href="#g8" x="105" y="290"/>
<use href="#g9" x="114" y="290"/>
<use href="#g11" x="130" y="290"/>
<polygon points="84,313 141.5,313 142.5,314 142.5,331 141.5,332 84,332 83,331 83,314" fill="#000"/>
<polygon points="86.5,316 139.5,316 141.0,317.5 141.0,328.5 139.5,330 86.5,330 85,328.5 85,317.5" fill="#fff"/>
<use href="#g6" x="88" y="317"/>
<use href="#g7" x="95" y="317"/>
<use href="#g8" x="105" y="317"/>
<use href="#g9" x="114" y="317"/>
<use href="#g12" x="128" y="317"/>
<polygon points="84,340 141.5,340 142.5,341 142.5,358 141.5,359 84,359 83,358 83,341" fill="#000"/>
<polygon points="86.5,343 139.5,343 141.0,344.5 141.0,355.5 139.5,357 86.5,357 85,355.5 85,344.5" fill="#fff"/>
<use href="#g6" x="88" y="344"/>
<use href="#g7" x="95" y="344"/>
<use href="#g8" x="105" y="344"/>
<use href="#g9" x="114" y="344"/>
<use href="#g13" x="128" y="344"/>
<polygon points="84,367 141.5,367 142.5,368 142.5,385 141.5,386 84,386 83,385 83,368" fill="#000"/>
<polygon points="86.5,370 139.5,370 141.0,371.5 141.0,382.5 139.5,384 86.5,384 85,382.5 85,371.5" fill="#fff"/>
<use href="#g6" x="88" y="371"/>
<use href="#g7" x="95" y="371"/>
<use href="#g8" x="105" y="371"/>
<use href="#g9" x="114" y="371"/>
<use href="#g10" x="128" y="371"/>
<polygon points="84,395 141.5,395 142.5,396 142.5,413 141.5,414 84,414 83,413 83,396" fill="#000"/>
<polygon points="86.5,398 139.5,398 141.0,399.5 141.0,410.5 139.5,412 86.5,412 85,410.5 85,399.5" fill="#fff"/>
<use href="#g6" x="88" y="399"/>
<use href="#g7" x="95" y="399"/>
<use href="#g8" x="105" y="399"/>
<use href="#g9" x="114" y="399"/>
<use href="#g11" x="130" y="399"/>
<polygon points="84,422 141.5,422 142.5,423 142.5,440 141.5,441 84,441 83,440 83,423" fill="#000"/>
<polygon points="86.5,425 139.5,425 141.0,426.5 141.0,437.5 139.5,439 86.5,439 85,437.5 85,426.5" fill="#fff"/>
<use href="#g6" x="88" y="426"/>
<use href="#g7" x="95" y="426"/>
<use href="#g8" x="105" y="426"/>
<use href="#g9" x="114" y="426"/>
<use href="#g12" x="128" y="426"/>
<polygon points="84,450 141.5,450 142.5,451 142.5,468 141.5,469 84,469 83,468 83,451" fill="#000"/>
<polygon points="86.5,453 139.5,453 141.0,454.5 141.0,465.5 139.5,467 86.5,467 85,465.5 85,454.5" fill="#fff"/>
<use href="#g6" x="88" y="454"/>
<use href="#g7" x="95" y="454"/>
<use href="#g8" x="105" y="454"/>
<use href="#g9" x="114" y="454"/>
<use href="#g13" x="128" y="454"/>
<rect x="23" y="35" width="7" height="14" fill="#000"/>
<rect x="24" y="36" width="5" height="12" fill="#fff"/>
<rect x="25" y="37" width="5" height="4" fill="#000"/>
<rect x="25" y="43" width="5" height="4" fill="#000"/>
<rect x="23" y="64" width="7" height="14" fill="#000"/>
<rect x="24" y="65" width="5" height="12" fill="#fff"/>
<rect x="25" y="66" width="5" height="4" fill="#000"/>
<rect x="25" y="72" width="5" height="4" fill="#000"/>
<rect x="23" y="88" width="7" height="31" fill="#000"/>
<rect x="24" y="89" width="5" height="1" fill="#fff"/>
<rect x="25" y="91" width="3" height="2" fill="#fff"/>
<rect x="24" y="94" width="5" height="1" fill="#fff"/>
<rect x="24" y="100" width="5" height="1" fill="#fff"/>
<rect x="24" y="106" width="5" height="1" fill="#fff"/>
<rect x="24" y="111" width="5" height="2" fill="#fff"/>
<rect x="24" y="117" width="5" height="1" fill="#fff"/>
<rect x="23" y="128" width="7" height="14" fill="#000"/>
<rect x="24" y="129" width="5" height="12" fill="#fff"/>
<rect x="25" y="130" width="5" height="4" fill="#000"/>
<rect x="25" y="136" width="5" height="4" fill="#000"/>
<rect x="23" y="143" width="7" height="14" fill="#000"/>
<rect x="24" y="144" width="5" height="12" fill="#fff"/>
<rect x="25" y="145" width="5" height="4" fill="#000"/>
<rect x="25" y="151" width="5" height="4" fill="#000"/>
<rect x="23" y="177" width="7" height="19" fill="#000"/>
<rect x="24" y="178" width="5" height="17" fill="#fff"/>
<rect x="25" y="179" width="5" height="5" fill="#000"/>
<rect x="26" y="180" width="2" height="2" fill="#fff"/>
<rect x="25" y="185.5" width="5" height="3" fill="#000"/>
<rect x="25" y="190.5" width="5" height="4" fill="#000"/>
<polygon points="38,32.5 42,36 32.6,43 31,41.4" fill="#000"/>
<polygon points="38.8,33.6 40.6,35.4 34.4,40.4" fill="#fff"/>
<polygon points="41,17 68,17 71,20 71,33 68,36 41,36 38,33 38,20" fill="#000"/>
<polygon points="41.5,19 66.5,19 68,20.5 68,32.5 66.5,34 41.5,34 40,32.5 40,20.5" fill="#fff"/>
<use href="#g14" x="41" y="20"/>
<use href="#g15" x="51" y="20"/>
<use href="#g16" x="60" y="20"/>
<polygon points="38,61.5 42,65 32.6,72 31,70.4" fill="#000"/>
<polygon points="38.8,62.6 40.6,64.4 34.4,69.4" fill="#fff"/>
<polygon points="41,46 68,46 71,49 71,62 68,65 41,65 38,62 38,49" fill="#000"/>
<polygon points="41.5,48 66.5,48 68,49.5 68,61.5 66.5,63 41.5,63 40,61.5 40,49.5" fill="#fff"/>
<use href="#g14" x="41" y="49"/>
<use href="#g15" x="52" y="49"/>
<use href="#g17" x="60" y="49"/>
<polygon points="38,93.5 42,97 32.6,104 31,102.4" fill="#000"/>
<polygon points="38.8,94.6 40.6,96.4 34.4,101.4" fill="#fff"/>
<polygon points="41,78 68,78 71,81 71,94 68,97 41,97 38,94 38,81" fill="#000"/>
<polygon points="41.5,80 66.5,80 68,81.5 68,93.5 66.5,95 41.5,95 40,93.5 40,81.5" fill="#fff"/>
<use href="#g14" x="41" y="81"/>
<use href="#g15" x="51" y="81"/>
<use href="#g18" x="60" y="81"/>
<polygon points="38,125.5 42,129 32.6,136 31,134.4" fill="#000"/>
<polygon points="38.8,126.6 40.6,128.4 34.4,133.4" fill="#fff"/>
<polygon points="41,110 68,110 71,113 71,126 68,129 41,129 38,126 38,113" fill="#000"/>
<polygon points="41.5,112 66.5,112 68,113.5 68,125.5 66.5,127 41.5,127 40,125.5 40,113.5" fill="#fff"/>
<use href="#g14" x="41" y="113"/>
<use href="#g15" x="51" y="113"/>
<use href="#g3" x="62" y="113"/>
<polygon points="50,141 47,142.5 45.3,147 40,148 31,149.5 31,151 40,152.7 45.3,154 47,157.5 50,159" fill="#000"/>
<polygon points="50,141 79.5,141 81.5,143 81.5,157 79.5,159 50,159 48,157 48,143" fill="#000"/>
<polygon points="50.5,143 79.5,143 80.0,143.5 80.0,156.0 79.5,156.5 50.5,156.5 50,156.0 50,143.5" fill="#fff"/>
<polygon points="51,143.2 49.2,143.5 47.6,148.5 41,150.3 47.6,152.3 49.2,156.3 51,156.5" fill="#fff"/>
<use href="#g14" x="52" y="144"/>
<use href="#g15" x="62" y="144"/>
<use href="#g5" x="71" y="144"/>
<polygon points="39,177.5 43,181 33.1,188 31.5,186.4" fill="#000"/>
<polygon points="39.8,178.6 41.6,180.4 34.9,185.4" fill="#fff"/>
<polygon points="42,162 75,162 78,165 78,178 75,181 42,181 39,178 39,165" fill="#000"/>
<polygon points="43.0,164 75.0,164 76.5,165.5 76.5,176.5 75.0,178 43.0,178 41.5,176.5 41.5,165.5" fill="#fff"/>
<use href="#g14" x="43" y="165"/>
<use href="#g15" x="54" y="165"/>
<use href="#g3" x="63" y="165"/>
<use href="#g4" x="70" y="165"/>
<rect x="146" y="20" width="7" height="14" fill="#000"/>
<rect x="147" y="21" width="5" height="12" fill="#fff"/>
<rect x="148" y="22" width="5" height="4" fill="#000"/>
<rect x="148" y="28" width="5" height="4" fill="#000"/>
<polygon points="167,34 162,39 153,27 154.7,25.3" fill="#000"/>
<polygon points="164.3,34.3 162.3,36.3 158,31" fill="#fff"/>
<polygon points="165,34 200,34 203,37 203,50 200,53 165,53 162,50 162,37" fill="#000"/>
<polygon points="166.0,37 198.5,37 200,38.5 200,49.0 198.5,50.5 166.0,50.5 164.5,49.0 164.5,38.5" fill="#fff"/>
<use href="#g19" x="167" y="38"/>
<use href="#g0" x="175" y="38"/>
<use href="#g3" x="184" y="38"/>
<use href="#g20" x="190" y="38"/>
<rect x="256" y="206" width="126" height="43" fill="#000"/>
<rect x="381" y="222" width="1" height="12" fill="#fff"/>
<rect x="305" y="221" width="28" height="14" fill="#fff"/>
<use href="#g21" x="307" y="222"/>
<use href="#g22" x="316" y="222"/>
<use href="#g23" x="325" y="222"/>
<rect x="294" y="271" width="88" height="41" fill="#000"/>
<rect x="380" y="286" width="2" height="12" fill="#fff"/>
<rect x="380" y="273" width="1" height="5" fill="#fff"/>
<rect x="318" y="285" width="40" height="14" fill="#fff"/>
<use href="#g22" x="324" y="286"/>
<use href="#g24" x="333" y="286"/>
<use href="#g2" x="336" y="286"/>
<use href="#g25" x="346" y="286"/>
<rect x="399" y="296" width="127" height="42" fill="#000"/>
<rect x="404" y="305" width="110" height="24" fill="#fff"/>
<rect x="402" y="298" width="3" height="5" fill="#fff"/>
<rect x="402" y="331" width="3" height="6" fill="#fff"/>
<rect x="408" y="298" width="3" height="5" fill="#fff"/>
<rect x="408" y="331" width="3" height="6" fill="#fff"/>
<rect x="414" y="298" width="3" height="5" fill="#fff"/>
<rect x="414" y="331" width="3" height="6" fill="#fff"/>
<rect x="420" y="298" width="3" height="5" fill="#fff"/>
<rect x="420" y="331" width="3" height="6" fill="#fff"/>
<rect x="427" y="298" width="3" height="5" fill="#fff"/>
<rect x="427" y="331" width="3" height="6" fill="#fff"/>
<rect x="433" y="298" width="3" height="5" fill="#fff"/>
<rect x="433" y="331" width="3" height="6" fill="#fff"/>
<rect x="439" y="298" width="3" height="5" fill="#fff"/>
<rect x="439" y="331" width="3" height="6" fill="#fff"/>
<rect x="445" y="298" width="3" height="5" fill="#fff"/>
<rect x="445" y="331" width="3" height="6" fill="#fff"/>
<rect x="451" y="298" width="3" height="5" fill="#fff"/>
<rect x="451" y="331" width="3" height="6" fill="#fff"/>
<rect x="458" y="298" width="3" height="5" fill="#fff"/>
<rect x="458" y="331" width="3" height="6" fill="#fff"/>
<rect x="464" y="298" width="3" height="5" fill="#fff"/>
<rect x="464" y="331" width="3" height="6" fill="#fff"/>
<rect x="470" y="298" width="3" height="5" fill="#fff"/>
<rect x="470" y="331" width="3" height="6" fill="#fff"/>
<rect x="476" y="298" width="3" height="5" fill="#fff"/>
<rect x="476" y="331" width="3" height="6" fill="#fff"/>
<rect x="482" y="298" width="3" height="5" fill="#fff"/>
<rect x="482" y="331" width="3" height="6" fill="#fff"/>
<rect x="489" y="298" width="3" height="5" fill="#fff"/>
<rect x="489" y="331" width="3" height="6" fill="#fff"/>
<rect x="495" y="298" width="3" height="5" fill="#fff"/>
<rect x="495" y="331" width="3" height="6" fill="#fff"/>
<rect x="501" y="298" width="3" height="5" fill="#fff"/>
<rect x="501" y="331" width="3" height="6" fill="#fff"/>
<rect x="507" y="298" width="3" height="5" fill="#fff"/>
<rect x="507" y="331" width="3" height="6" fill="#fff"/>
<rect x="513" y="298" width="3" height="5" fill="#fff"/>
<rect x="513" y="331" width="3" height="6" fill="#fff"/>
<rect x="520" y="298" width="3" height="5" fill="#fff"/>
<rect x="520" y="331" width="3" height="6" fill="#fff"/>
<rect x="456" y="305" width="6" height="24" fill="#000"/>
<rect x="525" y="304" width="1" height="26" fill="#fff"/>
<polygon points="526,310.5 520,317.3 526,323.5" fill="#fff"/>
<polygon points="448,308 477,308 479,310 479,324 477,326 448,326 446,324 446,310" fill="#000"/>
<polygon points="449.5,310 475.5,310 477,311.5 477,322.5 475.5,324 449.5,324 448,322.5 448,311.5" fill="#fff"/>
<use href="#g15" x="450" y="312"/>
<use href="#g0" x="460" y="312"/>
<use href="#g26" x="468" y="312"/>
<rect x="333" y="330" width="7" height="19" fill="#000"/>
<rect x="334" y="331" width="5" height="1" fill="#fff"/>
<rect x="335" y="333" width="3" height="2" fill="#fff"/>
<rect x="334" y="336" width="5" height="1" fill="#fff"/>
<rect x="334" y="342" width="5" height="1" fill="#fff"/>
<rect x="364" y="330" width="7" height="19" fill="#000"/>
<rect x="365" y="331" width="5" height="1" fill="#fff"/>
<rect x="366" y="333" width="3" height="2" fill="#fff"/>
<rect x="365" y="336" width="5" height="1" fill="#fff"/>
<rect x="365" y="342" width="5" height="1" fill="#fff"/>
<polygon points="320,346 326,350 333,341.7 333,338.5 331,338.5" fill="#000"/>
<polygon points="323.7,346.3 325.7,347.8 329.5,342.6" fill="#fff"/>
<polygon points="296,346 323,346 326,349 326,362 323,365 296,365 293,362 293,349" fill="#000"/>
<polygon points="297.0,349 322.0,349 323.5,350.5 323.5,360.5 322.0,362 297.0,362 295.5,360.5 295.5,350.5" fill="#fff"/>
<use href="#g19" x="297" y="349"/>
<use href="#g0" x="306" y="349"/>
<use href="#g27" x="314" y="349"/>
<polygon points="385,347 380,351 371,341.5 371,338.5 373,338.5" fill="#000"/>
<polygon points="382.3,347.2 380.5,348.8 376.5,344.3" fill="#fff"/>
<polygon points="383,347 417,347 420,350 420,363 417,366 383,366 380,363 380,350" fill="#000"/>
<polygon points="383.5,349.3 416.3,349.3 417.8,350.8 417.8,361.5 416.3,363 383.5,363 382,361.5 382,350.8" fill="#fff"/>
<use href="#g19" x="383" y="350"/>
<use href="#g0" x="392" y="350"/>
<use href="#g3" x="401" y="350"/>
<use href="#g16" x="408" y="350"/>
<polygon points="274,385 331,385 331,388 337,388 337,445 334,445 334,451 277,451 277,447 271,447 271,390 274,388" fill="#000"/>
<rect x="276" y="385" width="1" height="3" fill="#fff"/>
<rect x="288" y="385" width="1" height="3" fill="#fff"/>
<rect x="291" y="385" width="1" height="3" fill="#fff"/>
<rect x="302" y="385" width="1" height="3" fill="#fff"/>
<rect x="305" y="385" width="1" height="3" fill="#fff"/>
<rect x="308" y="385" width="1" height="3" fill="#fff"/>
<rect x="319" y="385" width="1" height="3" fill="#fff"/>
<rect x="322" y="385" width="1" height="3" fill="#fff"/>
<rect x="325" y="385" width="1" height="3" fill="#fff"/>
<rect x="279" y="448" width="1" height="3" fill="#fff"/>
<rect x="282" y="448" width="1" height="3" fill="#fff"/>
<rect x="290" y="448" width="1" height="3" fill="#fff"/>
<rect x="293" y="448" width="1" height="3" fill="#fff"/>
<rect x="296" y="448" width="1" height="3" fill="#fff"/>
<rect x="307" y="448" width="1" height="3" fill="#fff"/>
<rect x="310" y="448" width="1" height="3" fill="#fff"/>
<rect x="313" y="448" width="1" height="3" fill="#fff"/>
<rect x="325" y="448" width="1" height="3" fill="#fff"/>
<rect x="328" y="448" width="1" height="3" fill="#fff"/>
<rect x="331" y="448" width="1" height="3" fill="#fff"/>
<rect x="271" y="392" width="3" height="1" fill="#fff"/>
<rect x="271" y="395" width="3" height="1" fill="#fff"/>
<rect x="271" y="398" width="3" height="1" fill="#fff"/>
<rect x="271" y="410" width="3" height="1" fill="#fff"/>
<rect x="271" y="413" width="3" height="1" fill="#fff"/>
<rect x="271" y="416" width="3" height="1" fill="#fff"/>
<rect x="271" y="419" width="3" height="1" fill="#fff"/>
<rect x="271" y="430" width="3" height="1" fill="#fff"/>
<rect x="271" y="433" width="3" height="1" fill="#fff"/>
<rect x="271" y="436" width="3" height="1" fill="#fff"/>
<rect x="271" y="439" width="3" height="1" fill="#fff"/>
<rect x="334" y="402" width="3" height="1" fill="#fff"/>
<rect x="334" y="405" width="3" height="1" fill="#fff"/>
<rect x="334" y="408" width="3" height="1" fill="#fff"/>
<rect x="334" y="419" width="3" height="1" fill="#fff"/>
<rect x="334" y="422" width="3" height="1" fill="#fff"/>
<rect x="334" y="425" width="3" height="1" fill="#fff"/>
<rect x="334" y="436" width="3" height="1" fill="#fff"/>
<rect x="334" y="439" width="3" height="1" fill="#fff"/>
<rect x="334" y="442" width="3" height="1" fill="#fff"/>
<circle cx="280.5" cy="394.5" r="2.5" fill="#fff" shape-rendering="auto"/>
<polygon points="455,391 516,391 516,451 459.5,451 455,446.5" fill="#000"/>
<rect x="463" y="392" width="45" height="6" fill="#fff"/>
<rect x="457" y="399" width="5" height="39" fill="#fff"/>
<rect x="508" y="399" width="5" height="44" fill="#fff"/>
<rect x="463" y="444" width="44" height="5" fill="#fff"/>
<rect x="476" y="392" width="1" height="6" fill="#000"/>
<rect x="485" y="392" width="1" height="6" fill="#000"/>
<rect x="494" y="392" width="1" height="6" fill="#000"/>
<rect x="478" y="444" width="1" height="5" fill="#000"/>
<rect x="489" y="444" width="1" height="5" fill="#000"/>
<rect x="496" y="444" width="1" height="5" fill="#000"/>
<rect x="457" y="409" width="5" height="1" fill="#000"/>
<rect x="509" y="409" width="4" height="1" fill="#000"/>
<rect x="509" y="438" width="4" height="1" fill="#000"/>
<polygon points="457,440 462,440 466,444 464,449 459.5,449 457,446.5" fill="#fff"/>
<polygon points="462,398 508,398 508,444 466.5,444 462,439.5" fill="#000"/>
<circle cx="460" cy="446.3" r="2" fill="#fff" stroke="#000" stroke-width="1.2" shape-rendering="auto"/>
<rect x="471" y="414" width="29" height="14" fill="#fff"/>
<use href="#g14" x="473" y="415"/>
<use href="#g0" x="483" y="415"/>
<use href="#g26" x="492" y="415"/>
<path d="M700.5 393.5 L701.5 392.5 L704.5 391.5 L716 391.5 L716 398.5 L724.5 398.5 L725.5 401.5 L725.5 404.5 L723.5 407.5 L725.5 411 L725.5 414 L724 418 L725.5 422 L725.5 426 L724.5 429.5 L722.5 431.5 L718 432.5 L704 432.5 L701.5 431.5 L700.5 429.5 L699.5 427 L699.5 423.5 L701 420 L699.5 416 L699.5 411.5 L701 407 L699.5 403 L699.5 396.5 Z" fill="url(#dots)" stroke="#000" stroke-width="1"/>
<polygon points="758,372 765.5,372 767,390 765,390" fill="#000"/>
<polygon points="761.5,373 763.5,373 765,381" fill="#fff"/>
<polygon points="741,354 778,354 781,357 781,370 778,373 741,373 738,370 738,357" fill="#000"/>
<polygon points="742.0,357 776.5,357 778,358.5 778,368.5 776.5,370 742.0,370 740.5,368.5 740.5,358.5" fill="#fff"/>
<use href="#g14" x="743" y="358"/>
<use href="#g15" x="754" y="358"/>
<use href="#g3" x="763" y="358"/>
<use href="#g28" x="770" y="358"/>
<polygon points="749.5,395 744,398 760.5,413 763,413 763.5,411" fill="#000"/>
<polygon points="747.8,398.6 746.2,399.3 752,404.3" fill="#fff"/>
<polygon points="717.5,381 748.0,381 749.5,382.5 749.5,397.0 748.0,398.5 717.5,398.5 716,397.0 716,382.5" fill="#000"/>
<polygon points="718.5,383 747.0,383 747.5,383.5 747.5,396.0 747.0,396.5 718.5,396.5 718,396.0 718,383.5" fill="#fff"/>
<rect x="716" y="395" width="3" height="3.5" fill="#000"/>
<rect x="718" y="394" width="2" height="2.5" fill="#fff"/>
<use href="#g14" x="719" y="384"/>
<use href="#g15" x="730" y="384"/>
<use href="#g29" x="738" y="384"/>
<rect x="754" y="390" width="26" height="7" fill="#000"/>
<rect x="760" y="391" width="1" height="5" fill="#fff"/>
<rect x="766" y="391" width="1" height="5" fill="#fff"/>
<rect x="771" y="391" width="2" height="5" fill="#fff"/>
<rect x="774" y="392" width="3" height="3" fill="#fff"/>
<rect x="775" y="393" width="1" height="1" fill="#000"/>
<rect x="777" y="391" width="2" height="5" fill="#fff"/>
<rect x="749" y="413" width="31" height="6" fill="#000"/>
<rect x="755" y="414" width="1" height="4" fill="#fff"/>
<rect x="760" y="414" width="2" height="4" fill="#fff"/>
<rect x="766" y="414" width="2" height="4" fill="#fff"/>
<rect x="772" y="414" width="1" height="4" fill="#fff"/>
<rect x="774" y="414" width="3" height="4" fill="#fff"/>
<rect x="775" y="415" width="2" height="2" fill="#000"/>
<rect x="778" y="414" width="1" height="4" fill="#fff"/>
<rect x="755" y="439" width="24" height="38" fill="#000"/>
<rect x="779" y="435" width="3" height="46" fill="#000"/>
<rect x="782" y="433" width="3" height="50" fill="#000"/>
<rect x="748" y="448" width="5" height="9" fill="#000"/>
<rect x="749" y="449" width="3" height="7" fill="#fff"/>
<rect x="752" y="446" width="3" height="9" fill="#000"/>
<rect x="753" y="447" width="2" height="7" fill="#fff"/>
<rect x="748" y="459" width="5" height="9" fill="#000"/>
<rect x="749" y="460" width="3" height="7" fill="#fff"/>
<rect x="752" y="461" width="3" height="9" fill="#000"/>
<rect x="753" y="462" width="2" height="7" fill="#fff"/>
<rect x="754" y="448" width="1" height="1" fill="#000"/>
<rect x="754" y="450" width="1" height="1" fill="#000"/>
<rect x="754" y="452" width="1" height="1" fill="#000"/>
<rect x="754" y="463" width="1" height="1" fill="#000"/>
<rect x="754" y="465" width="1" height="1" fill="#000"/>
<rect x="754" y="467" width="1" height="1" fill="#000"/>
<rect x="753" y="456" width="1" height="4" fill="#fff"/>
<rect x="622" y="480" width="112" height="24" fill="#000"/>
<rect x="623" y="481" width="110" height="22" fill="#fff"/>
<rect x="623" y="487" width="110" height="1" fill="#000"/>
<rect x="624" y="484" width="7" height="2" fill="#000"/>
<rect x="626" y="483" width="3" height="4" fill="#000"/>
<rect x="624" y="490" width="7" height="3" fill="#000"/>
<rect x="625" y="491" width="5" height="1" fill="#fff"/>
<rect x="633" y="484" width="7" height="2" fill="#000"/>
<rect x="635" y="483" width="3" height="4" fill="#000"/>
<rect x="633" y="490" width="7" height="3" fill="#000"/>
<rect x="634" y="491" width="5" height="1" fill="#fff"/>
<rect x="642" y="484" width="7" height="2" fill="#000"/>
<rect x="644" y="483" width="3" height="4" fill="#000"/>
<rect x="643" y="490" width="7" height="3" fill="#000"/>
<rect x="644" y="491" width="5" height="1" fill="#fff"/>
<rect x="652" y="484" width="7" height="2" fill="#000"/>
<rect x="654" y="483" width="3" height="4" fill="#000"/>
<rect x="652" y="490" width="7" height="3" fill="#000"/>
<rect x="653" y="491" width="5" height="1" fill="#fff"/>
<rect x="661" y="484" width="7" height="2" fill="#000"/>
<rect x="663" y="483" width="3" height="4" fill="#000"/>
<rect x="661" y="490" width="7" height="3" fill="#000"/>
<rect x="662" y="491" width="5" height="1" fill="#fff"/>
<rect x="670" y="484" width="7" height="2" fill="#000"/>
<rect x="672" y="483" width="3" height="4" fill="#000"/>
<rect x="670" y="490" width="7" height="3" fill="#000"/>
<rect x="671" y="491" width="5" height="1" fill="#fff"/>
<rect x="679" y="484" width="7" height="2" fill="#000"/>
<rect x="681" y="483" width="3" height="4" fill="#000"/>
<rect x="679" y="490" width="7" height="3" fill="#000"/>
<rect x="680" y="491" width="5" height="1" fill="#fff"/>
<rect x="688" y="484" width="7" height="2" fill="#000"/>
<rect x="690" y="483" width="3" height="4" fill="#000"/>
<rect x="689" y="490" width="7" height="3" fill="#000"/>
<rect x="690" y="491" width="5" height="1" fill="#fff"/>
<rect x="698" y="484" width="7" height="2" fill="#000"/>
<rect x="700" y="483" width="3" height="4" fill="#000"/>
<rect x="698" y="490" width="7" height="3" fill="#000"/>
<rect x="699" y="491" width="5" height="1" fill="#fff"/>
<rect x="707" y="484" width="7" height="2" fill="#000"/>
<rect x="709" y="483" width="3" height="4" fill="#000"/>
<rect x="707" y="490" width="7" height="3" fill="#000"/>
<rect x="708" y="491" width="5" height="1" fill="#fff"/>
<rect x="716" y="484" width="7" height="2" fill="#000"/>
<rect x="718" y="483" width="3" height="4" fill="#000"/>
<rect x="716" y="490" width="7" height="3" fill="#000"/>
<rect x="717" y="491" width="5" height="1" fill="#fff"/>
<rect x="725" y="484" width="7" height="2" fill="#000"/>
<rect x="727" y="483" width="3" height="4" fill="#000"/>
<rect x="725" y="490" width="7" height="3" fill="#000"/>
<rect x="726" y="491" width="5" height="1" fill="#fff"/>
<rect x="628" y="494" width="7" height="7" fill="#000"/>
<rect x="629" y="495" width="5" height="5" fill="#fff"/>
<rect x="637" y="494" width="7" height="7" fill="#000"/>
<rect x="638" y="495" width="5" height="5" fill="#fff"/>
<rect x="647" y="494" width="7" height="7" fill="#000"/>
<rect x="648" y="495" width="5" height="5" fill="#fff"/>
<rect x="656" y="494" width="7" height="7" fill="#000"/>
<rect x="657" y="495" width="5" height="5" fill="#fff"/>
<rect x="665" y="494" width="7" height="7" fill="#000"/>
<rect x="666" y="495" width="5" height="5" fill="#fff"/>
<rect x="675" y="494" width="7" height="7" fill="#000"/>
<rect x="676" y="495" width="5" height="5" fill="#fff"/>
<rect x="684" y="494" width="7" height="7" fill="#000"/>
<rect x="685" y="495" width="5" height="5" fill="#fff"/>
<rect x="693" y="494" width="7" height="7" fill="#000"/>
<rect x="694" y="495" width="5" height="5" fill="#fff"/>
<rect x="703" y="494" width="7" height="7" fill="#000"/>
<rect x="704" y="495" width="5" height="5" fill="#fff"/>
<rect x="712" y="494" width="7" height="7" fill="#000"/>
<rect x="713" y="495" width="5" height="5" fill="#fff"/>
<rect x="722" y="494" width="7" height="7" fill="#000"/>
<rect x="723" y="495" width="5" height="5" fill="#fff"/>
<rect x="622" y="495" width="2" height="5" fill="#000"/>
<rect x="623" y="498" width="1" height="1" fill="#fff"/>
<rect x="732" y="495" width="2" height="5" fill="#000"/>
<rect x="732" y="498" width="1" height="1" fill="#fff"/>
<use href="#g30" x="625" y="52"/>
<use href="#g31" x="634" y="52"/>
<use href="#g32" x="642" y="52"/>
<use href="#g33" x="648" y="52"/>
<use href="#g34" x="655" y="52"/>
<use href="#g35" x="662" y="52"/></svg></body></html>
